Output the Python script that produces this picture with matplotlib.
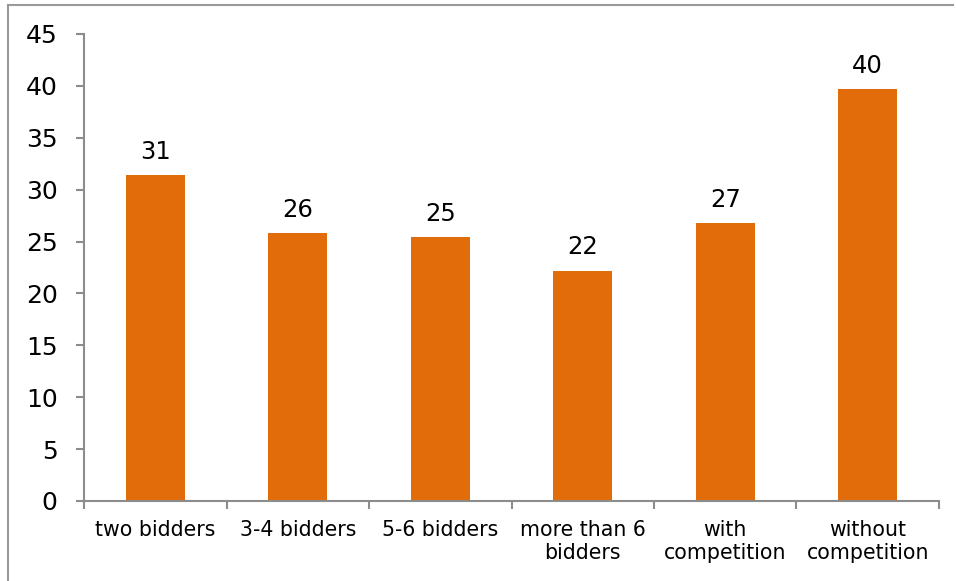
import matplotlib
matplotlib.use("Agg")
import matplotlib.pyplot as plt
from matplotlib.lines import Line2D
import numpy as np

categories = ["two bidders", "3-4 bidders", "5-6 bidders", "more than 6\nbidders", "with\ncompetition", "without\ncompetition"]
values = [31.4, 25.8, 25.4, 22.2, 26.8, 39.7]
labels = ["31", "26", "25", "22", "27", "40"]
yticks = [0, 5, 10, 15, 20, 25, 30, 35, 40, 45]

bar_color = "#E36C0A"
axis_color = "#8C8C8C"

fig = plt.figure(figsize=(9.56, 5.81), dpi=100)
ax = fig.add_axes([0.0879, 0.1377, 0.9822 - 0.0879, 0.9415 - 0.1377])

x = np.arange(len(categories))
ax.bar(x, values, width=0.415, color=bar_color, zorder=2)
for xi, v, lab in zip(x, values, labels):
    ax.annotate(lab, (xi, v), xytext=(0, 8), textcoords="offset points",
                ha="center", va="bottom", fontsize=17.5, color="black")

ax.set_xlim(-0.5, len(categories) - 0.5)
ax.set_ylim(0, 45)
ax.set_yticks(yticks)
ax.set_yticklabels([str(t) for t in yticks], fontsize=18)
ax.set_xticks(np.arange(-0.5, len(categories), 1.0))
ax.set_xticklabels([])
ax.set_xticks(x, minor=True)
ax.set_xticklabels(categories, minor=True, fontsize=14.8, linespacing=1.15)
ax.tick_params(axis="x", which="minor", length=0, pad=14)
ax.tick_params(axis="x", which="major", length=6, width=1.5, color=axis_color, direction="out")
ax.tick_params(axis="y", length=6, width=1.5, color=axis_color, direction="out", pad=13)

for s in ["top", "right"]:
    ax.spines[s].set_visible(False)
for s in ["left", "bottom"]:
    ax.spines[s].set_color(axis_color)
    ax.spines[s].set_linewidth(1.5)

# outer frame lines (top and left)
fig.add_artist(Line2D([8/956, 953/956], [1 - 5/581, 1 - 5/581], transform=fig.transFigure, color="#999999", lw=1.5))
fig.add_artist(Line2D([8/956, 8/956], [0, 1 - 5/581], transform=fig.transFigure, color="#999999", lw=1.5))

fig.savefig("out.png", dpi=100)
